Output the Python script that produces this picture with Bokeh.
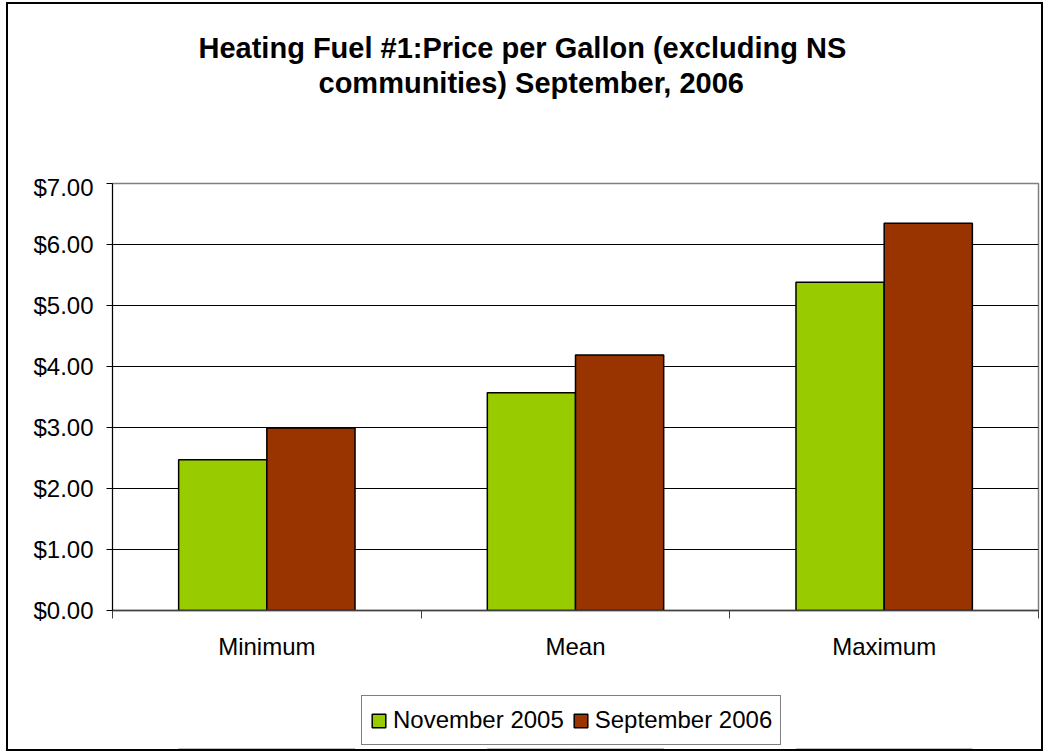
import numpy as np
from bokeh.plotting import figure
from bokeh.layouts import column
from bokeh.models import (ColumnDataSource, Range1d, FixedTicker, NumeralTickFormatter,
                          Legend, LegendItem, Title)
from bokeh.transform import dodge
from bokeh.embed import file_html
from bokeh.resources import INLINE

categories = ["Minimum", "Mean", "Maximum"]
nov_2005 = [2.47, 3.57, 5.38]
sep_2006 = [2.99, 4.19, 6.35]
series_names = ["November 2005", "September 2006"]
series_colors = ["#99CC00", "#993300"]
title_lines = ["Heating Fuel #1:Price per Gallon (excluding NS",
               "communities) September, 2006"]
y_ticks = [0, 1, 2, 3, 4, 5, 6, 7]

FONT = "Liberation Sans"
BAR_W = 0.2857
W = 1033


def blank_figure(height, **kw):
    f = figure(width=W, height=height, output_backend="svg", toolbar_location=None,
               title=None, x_axis_location=None, y_axis_location=None,
               min_border_left=0, min_border_right=0, **kw)
    f.outline_line_color = None
    f.grid.visible = False
    return f


# ---------- header with the two-line title ----------
head = blank_figure(169, min_border_top=94, min_border_bottom=0,
                    x_range=Range1d(0, 1), y_range=Range1d(0, 1))
t2 = Title(text=title_lines[1], align="left", offset=206, standoff=0,
           text_font=FONT, text_font_size="29px", text_font_style="bold",
           text_color="black")
t1 = Title(text=title_lines[0], align="left", offset=86, standoff=2,
           text_font=FONT, text_font_size="29px", text_font_style="bold",
           text_color="black")
head.add_layout(t2, "above")
head.add_layout(t1, "above")

# ---------- main chart ----------
src = ColumnDataSource(dict(
    x=np.arange(len(categories)) + 0.5,
    cat=categories,
    nov=nov_2005,
    sep=sep_2006,
))

p = figure(width=W, height=493, output_backend="svg", toolbar_location=None,
           title=None,
           x_range=Range1d(0, len(categories)), y_range=Range1d(0, 7),
           min_border_left=104, min_border_right=3, min_border_top=10,
           min_border_bottom=56)

bar_kw = dict(width=BAR_W, source=src, line_color="black", line_width=1.5)
p.vbar(x=dodge("x", -BAR_W / 2), top="nov", fill_color=series_colors[0], **bar_kw)
p.vbar(x=dodge("x", BAR_W / 2), top="sep", fill_color=series_colors[1], **bar_kw)

p.yaxis.ticker = FixedTicker(ticks=y_ticks)
p.yaxis.formatter = NumeralTickFormatter(format="$0.00")
p.yaxis.major_label_text_font = FONT
p.yaxis.major_label_text_font_size = "24px"
p.yaxis.major_label_text_color = "black"
p.yaxis.major_tick_out = 6
p.yaxis.major_tick_in = 0
p.yaxis.minor_tick_out = 0
p.yaxis.minor_tick_in = 0
p.yaxis.major_label_standoff = 13
p.yaxis.axis_line_color = "black"
p.yaxis.major_tick_line_color = "black"

centers = [i + 0.5 for i in range(len(categories))]
bounds = [float(i) for i in range(len(categories) + 1)]
p.xaxis.ticker = FixedTicker(ticks=centers, minor_ticks=bounds)
p.xaxis.major_label_overrides = {c: n for c, n in zip(centers, categories)}
p.xaxis.major_tick_out = 0
p.xaxis.major_tick_in = 0
p.xaxis.minor_tick_out = 8
p.xaxis.minor_tick_in = 0
p.xaxis.minor_tick_line_color = "#404040"
p.xaxis.axis_line_color = "#404040"
p.xaxis.axis_line_width = 1.5
p.xaxis.major_label_text_font = FONT
p.xaxis.major_label_text_font_size = "24px"
p.xaxis.major_label_text_color = "black"
p.xaxis.major_label_standoff = 14

p.xgrid.visible = False
p.ygrid.ticker = FixedTicker(ticks=y_ticks)
p.ygrid.grid_line_color = "black"
p.ygrid.grid_line_width = 1

p.outline_line_color = "#808080"
p.outline_line_width = 1.5

# ---------- legend strip (same series, view placed away from the bars) ----------
leg = blank_figure(83, min_border_top=0, min_border_bottom=0,
                   x_range=Range1d(0, len(categories)), y_range=Range1d(100, 101))
swatches = [
    leg.vbar(x=dodge("x", -BAR_W / 2), top="nov", fill_color=series_colors[0], **bar_kw),
    leg.vbar(x=dodge("x", BAR_W / 2), top="sep", fill_color=series_colors[1], **bar_kw),
]
legend = Legend(items=[LegendItem(label=n, renderers=[r])
                       for n, r in zip(series_names, swatches)],
                location=(249, 4), orientation="horizontal")
legend.label_text_font = FONT
legend.label_text_font_size = "24px"
legend.label_text_color = "black"
legend.glyph_width = 17
legend.glyph_height = 17
legend.label_standoff = 6
legend.label_height = 32
legend.spacing = 8
legend.padding = 8
legend.margin = 0
legend.border_line_color = "black"
legend.border_line_width = 1
legend.background_fill_alpha = 1
leg.add_layout(legend, "center")

layout = column(head, p, leg, spacing=0,
                styles={"border": "2px solid black", "margin-left": "6px",
                        "margin-top": "2px"})

open("out.html", "w").write(file_html(layout, INLINE))
